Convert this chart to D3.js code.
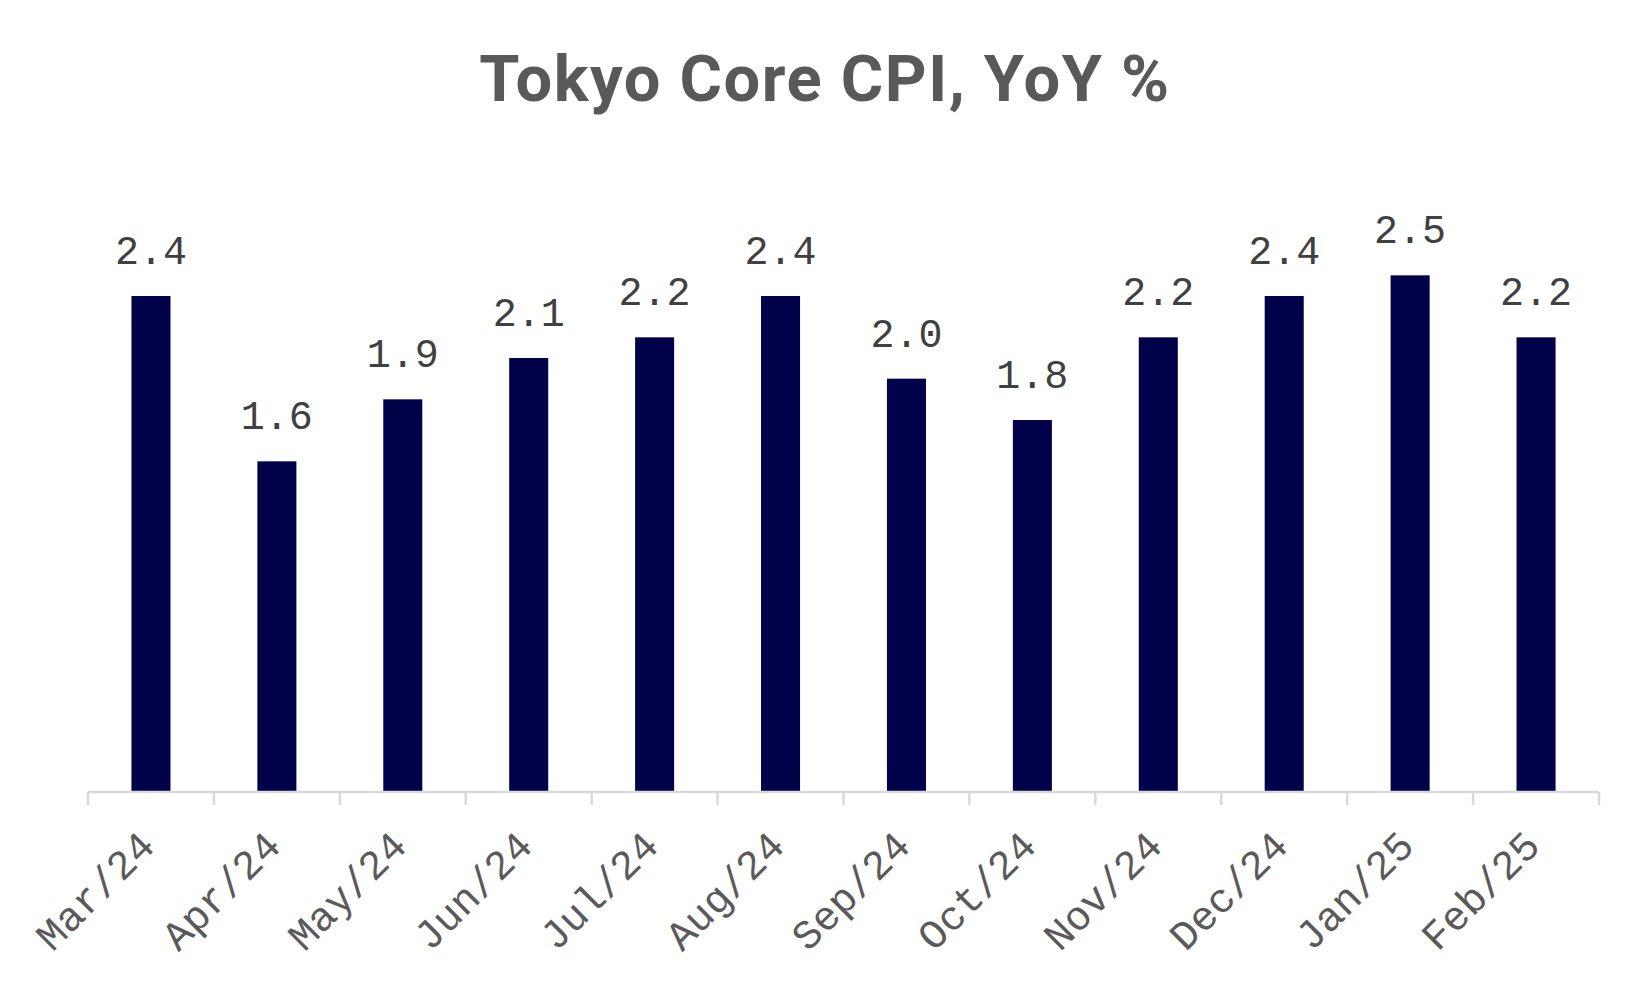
<!DOCTYPE html>
<html><head><meta charset="utf-8">
<script src="https://cdn.jsdelivr.net/npm/d3@7"></script>
<style>body{margin:0;background:#fff}</style>
</head><body>
<svg id="c" width="1650" height="999"></svg>
<script>
const categories = ["Mar/24","Apr/24","May/24","Jun/24","Jul/24","Aug/24","Sep/24","Oct/24","Nov/24","Dec/24","Jan/25","Feb/25"];
const values = [2.4,1.6,1.9,2.1,2.2,2.4,2.0,1.8,2.2,2.4,2.5,2.2];
const title = "Tokyo Core CPI, YoY %";

const svg = d3.select("#c");
const left = 88, right = 1599, base = 792;
const x = d3.scaleBand().domain(categories).range([left, right]).padding(0);
const y = d3.scaleLinear().domain([0, 3]).range([base, base - 620]);
const barW = x.bandwidth() * 0.31;

svg.append("text").attr("x", 825).attr("y", 101).attr("text-anchor", "middle")
  .style("font-family", "Roboto").style("font-weight", "bold").style("font-size", "65px")
  .style("letter-spacing", "1.5px")
  .style("fill", "#595959").text(title);

svg.append("g").selectAll("rect").data(values).join("rect")
  .attr("x", (d, i) => x(categories[i]) + (x.bandwidth() - barW) / 2)
  .attr("width", barW)
  .attr("y", d => y(d))
  .attr("height", d => base - y(d))
  .attr("fill", "#02024a");

svg.append("g").selectAll("text").data(values).join("text")
  .attr("x", (d, i) => x(categories[i]) + x.bandwidth() / 2)
  .attr("y", d => y(d) - 32)
  .attr("text-anchor", "middle")
  .style("font-family", "Liberation Mono").style("font-size", "40px").style("fill", "#404040")
  .text(d => d3.format(".1f")(d));

// axis
const ax = svg.append("g");
ax.append("line").attr("x1", left).attr("x2", right).attr("y1", base).attr("y2", base)
  .attr("stroke", "#d9d9d9").attr("stroke-width", 2.5);
const bounds = categories.map(c => x(c)).concat([x(categories[categories.length - 1]) + x.bandwidth()]);
ax.selectAll("line.t").data(bounds).join("line").attr("class", "t")
  .attr("x1", d => d).attr("x2", d => d).attr("y1", base).attr("y2", base + 13)
  .attr("stroke", "#d9d9d9").attr("stroke-width", 2.5);
ax.selectAll("text").data(categories).join("text")
  .attr("transform", d => `translate(${x(d) + x.bandwidth() / 2 + 6},${base + 56}) rotate(-45)`)
  .attr("text-anchor", "end")
  .style("font-family", "Liberation Mono").style("font-size", "41px").style("fill", "#5a5a5a")
  .text(d => d);
</script>
</body></html>
